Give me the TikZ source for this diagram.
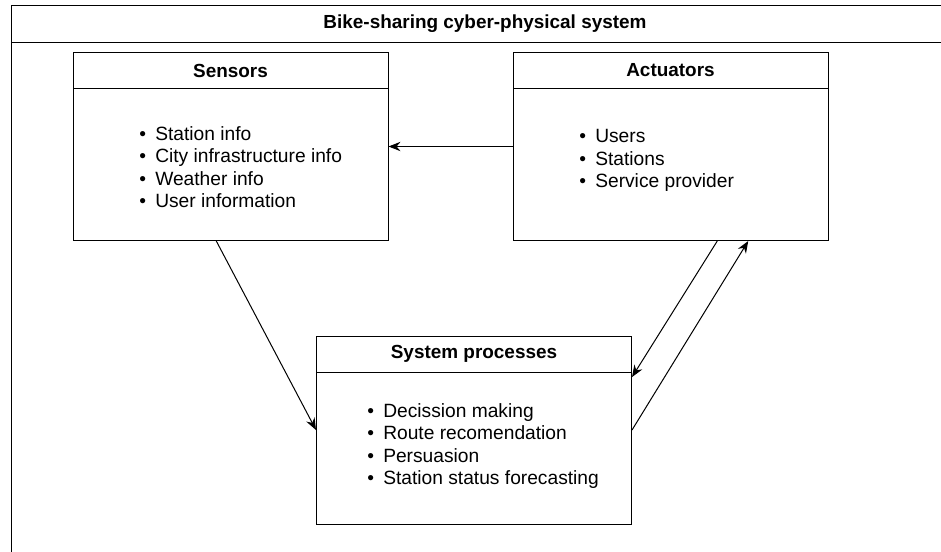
\documentclass[tikz,border=0pt]{standalone}
\usepackage{fontspec}
\setmainfont{Liberation Sans}
\usetikzlibrary{positioning, calc, arrows.meta}

\tikzset{
  box/.style={draw, line width=0.75pt, minimum width=315*0.75pt, minimum height=188*0.75pt, inner sep=0pt},
  head/.style={draw, line width=0.75pt, minimum width=315*0.75pt, minimum height=36*0.75pt, inner sep=0pt, font=\fontsize{14.2}{16}\selectfont\bfseries},
  items/.style={align=left, inner sep=0pt, anchor=west, font=\fontsize{14.4}{16.7}\selectfont},
  link/.style={->, line width=0.75pt, >={Stealth[length=9pt,width=7pt,inset=3pt]}}
}
\newcommand{\blt}{\makebox[12pt][l]{\textbullet}}

\begin{document}
\begin{tikzpicture}[x=0.75pt,y=-0.75pt]
\clip (0,0) rectangle (941,551);
% cadre general
\draw[line width=0.75pt] (11,5) rectangle (960,600);
\draw[line width=0.75pt] (11,42) -- (960,42);
\node[font=\fontsize{14.2}{16}\selectfont\bfseries] (titre) at (485,23.5) {Bike-sharing cyber-physical system};

% les blocs
\node[box] (sens) at (230.5,146.5) {};
\node[head, anchor=north] (sensh) at (sens.north) {Sensors};
\node[items] (sensl) at (139,167) {\blt Station info\\ \blt City infrastructure info\\ \blt Weather info\\ \blt User information};

\node[box] (act) at (670.5,146.5) {};
\node[head, anchor=north] (acth) at (act.north) {Actuators};
\node[items] (actl) at (579,160.5) {\blt Users\\ \blt Stations\\ \blt Service provider};

\node[box] (sys) at (474,430) {};
\node[head, anchor=north] (sysh) at (sys.north) {System processes};
\node[items] (sysl) at (367,446) {\blt Decission making\\ \blt Route recomendation\\ \blt Persuasion\\ \blt Station status forecasting};

% les fleches
\draw[link] (act.west) -- (sens.east);
\draw[link] ($(sens.south west)!.455!(sens.south east)$) -- (sys.west);
\draw[link] ($(act.south west)!.648!(act.south east)$) -- ($(sys.north east)!.22!(sys.south east)$);
\draw[link] (sys.east) -- ($(act.south west)!.746!(act.south east)$);

\end{tikzpicture}
\end{document}
